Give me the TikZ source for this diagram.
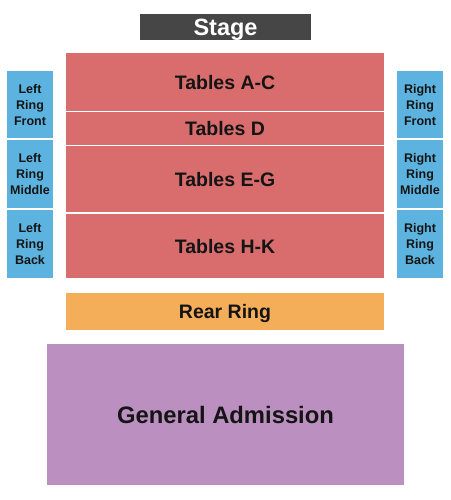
\documentclass[tikz,border=0pt]{standalone}
\usepackage{fontspec}
\setmainfont{Liberation Sans}
\usepackage{xcolor}
\usetikzlibrary{positioning}
\definecolor{StageGray}{HTML}{464646}
\definecolor{TableRed}{HTML}{D96D6D}
\definecolor{RingBlue}{HTML}{5DB3DF}
\definecolor{RearOrange}{HTML}{F4AE5A}
\definecolor{GAPurple}{HTML}{BC8FC1}
\definecolor{Ink}{HTML}{141414}
\tikzset{
  seat/.style={inner sep=0pt, text=Ink, text depth=0pt, font=\bfseries\fontsize{19.5}{22}\selectfont},
  side/.style={seat, fill=RingBlue, minimum width=46pt, align=center,
    font=\bfseries\fontsize{12.5}{16}\selectfont},
}
\newcommand{\tablerow}[4]{
  \node[seat, fill=TableRed, minimum width=318pt, minimum height=#3pt] (#1) at (225,#2) {#4};
}
\begin{document}
\begin{tikzpicture}[x=1pt, y=-1pt]
        \useasboundingbox (0,0) rectangle (450,500);
        \node[seat, fill=StageGray, text=white, minimum width=171pt, minimum height=26pt,
          font=\bfseries\fontsize{23.5}{24}\selectfont] (stage) at (225.5,27) {Stage};
        \tablerow{ac}{82}{58}{Tables A-C}
        \tablerow{d}{128.5}{32}{Tables D}
        \tablerow{eg}{179}{66}{Tables E-G}
        \tablerow{hk}{246}{64}{Tables H-K}
        % side rings
        \node[side, minimum height=67pt] (lfront) at (30,104.5) {Left\\Ring\\Front};
        \node[side, minimum height=68pt] (lmid) at (30,174) {Left\\Ring\\Middle};
        \node[side, minimum height=68pt] (lback) at (30,244) {Left\\Ring\\Back};
        \node[side, minimum height=67pt] (rfront) at (420,104.5) {Right\\Ring\\Front};
        \node[side, minimum height=68pt] (rmid) at (420,174) {Right\\Ring\\Middle};
        \node[side, minimum height=68pt] (rback) at (420,244) {Right\\Ring\\Back};
        \node[seat, fill=RearOrange, minimum width=318pt, minimum height=37pt] (rear) at (225,311.5) {Rear Ring};
        \node[seat, fill=GAPurple, minimum width=357pt, minimum height=141pt,
          font=\bfseries\fontsize{23.8}{26}\selectfont] (ga) at (225.5,414.5) {General Admission};
      \end{tikzpicture}
\end{document}
